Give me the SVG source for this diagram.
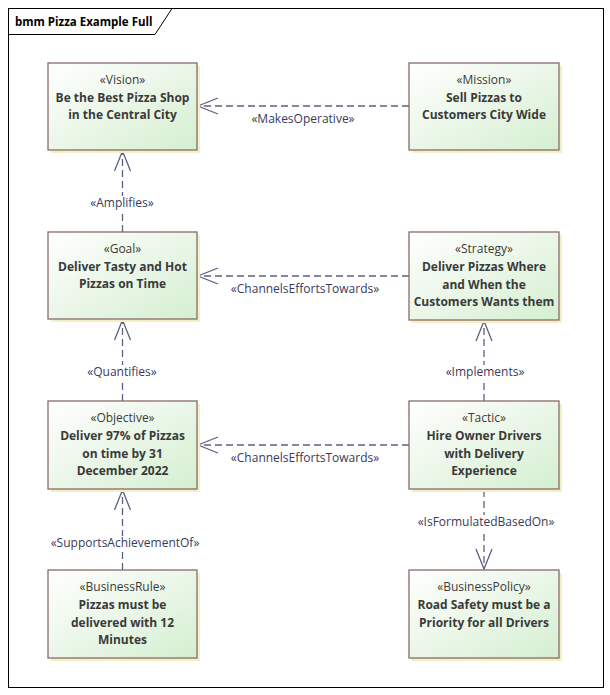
<svg xmlns="http://www.w3.org/2000/svg" width="610" height="695" viewBox="0 0 610 695">
<defs>
<linearGradient id="g" x1="0" y1="0" x2="1" y2="1">
<stop offset="0" stop-color="#ffffff"/>
<stop offset="0.6" stop-color="#e6f5e3"/>
<stop offset="1" stop-color="#d4efd0"/>
</linearGradient>
<marker id="arr" viewBox="0 0 22 18" refX="21" refY="9" markerWidth="22" markerHeight="18" markerUnits="userSpaceOnUse" orient="auto">
<path d="M1,1 L21,9 L1,17" fill="none" stroke="#5d6080" stroke-width="1.3"/>
</marker>
<style>
.box{fill:url(#g);stroke:#8a6a6a;stroke-width:1.3}
.sh{fill:#f4efc4}
.st{font-family:"Open Sans","Noto Sans",sans-serif;font-size:12px;fill:#3a3a3a;text-anchor:middle}
.nm{font-family:"Open Sans","Noto Sans",sans-serif;font-size:12px;font-weight:bold;fill:#3a3a3a;text-anchor:middle}
.lbl{font-family:"Open Sans","Noto Sans",sans-serif;font-size:12px;fill:#3a3a5a;text-anchor:middle}
.bg{fill:#ffffff}
.c{fill:none;stroke:#5d6080;stroke-width:1.3;stroke-dasharray:7,4;marker-end:url(#arr)}
</style>
</defs>
<rect x="0" y="0" width="610" height="695" fill="#ffffff"/>
<g id="frame">
<rect x="8.5" y="8.5" width="595" height="679" fill="none" stroke="#000" stroke-width="1"/>
<path d="M8.5,34.5 L155,34.5 L172,8.5" fill="none" stroke="#000" stroke-width="1"/>
<text x="15" y="26" font-family="'Open Sans','Noto Sans',sans-serif" font-size="11.5" font-weight="bold" fill="#000">bmm Pizza Example Full</text>
</g>
<g id="connectors">
<line class="c" x1="409" y1="106" x2="198" y2="106"/>
<line class="c" x1="122.5" y1="232" x2="122.5" y2="151"/>
<line class="c" x1="409" y1="276" x2="198" y2="276"/>
<line class="c" x1="122.5" y1="401" x2="122.5" y2="320"/>
<line class="c" x1="484" y1="401" x2="484" y2="321"/>
<line class="c" x1="409" y1="445" x2="198" y2="445"/>
<line class="c" x1="122.5" y1="570" x2="122.5" y2="490"/>
<line class="c" x1="484" y1="490" x2="484" y2="569"/>
<rect class="bg" x="89" y="196" width="67" height="15"/>
<rect class="bg" x="85" y="365" width="75" height="15"/>
<rect class="bg" x="444" y="365" width="82" height="15"/>
<rect class="bg" x="48" y="536" width="154" height="15"/>
<rect class="bg" x="414" y="515" width="144" height="15"/>
<text class="lbl" x="303" y="123">«MakesOperative»</text>
<text class="lbl" x="122" y="207">«Amplifies»</text>
<text class="lbl" x="305" y="293">«ChannelsEffortsTowards»</text>
<text class="lbl" x="122" y="376">«Quantifies»</text>
<text class="lbl" x="485" y="376">«Implements»</text>
<text class="lbl" x="305" y="462">«ChannelsEffortsTowards»</text>
<text class="lbl" x="125" y="547">«SupportsAchievementOf»</text>
<text class="lbl" x="486" y="526">«IsFormulatedBasedOn»</text>
</g>
<g id="vision">
<rect class="sh" x="51" y="66" width="149" height="87"/>
<rect class="box" x="48" y="63" width="149" height="87"/>
<text class="st" x="122.5" y="84">«Vision»</text>
<text class="nm" x="122.5" y="102">Be the Best Pizza Shop</text>
<text class="nm" x="122.5" y="119">in the Central City</text>
</g>
<g id="mission">
<rect class="sh" x="412" y="66" width="150" height="87"/>
<rect class="box" x="409" y="63" width="150" height="87"/>
<text class="st" x="484" y="84">«Mission»</text>
<text class="nm" x="484" y="102">Sell Pizzas to</text>
<text class="nm" x="484" y="119">Customers City Wide</text>
</g>
<g id="goal">
<rect class="sh" x="51" y="235" width="149" height="87"/>
<rect class="box" x="48" y="232" width="149" height="87"/>
<text class="st" x="122.5" y="253">«Goal»</text>
<text class="nm" x="122.5" y="271">Deliver Tasty and Hot</text>
<text class="nm" x="122.5" y="288">Pizzas on Time</text>
</g>
<g id="strategy">
<rect class="sh" x="412" y="235" width="150" height="88"/>
<rect class="box" x="409" y="232" width="150" height="88"/>
<text class="st" x="484" y="253">«Strategy»</text>
<text class="nm" x="484" y="271">Deliver Pizzas Where</text>
<text class="nm" x="484" y="289">and When the</text>
<text class="nm" x="484" y="306">Customers Wants them</text>
</g>
<g id="objective">
<rect class="sh" x="51" y="404" width="149" height="88"/>
<rect class="box" x="48" y="401" width="149" height="88"/>
<text class="st" x="122.5" y="422">«Objective»</text>
<text class="nm" x="122.5" y="440">Deliver 97% of Pizzas</text>
<text class="nm" x="122.5" y="458">on time by 31</text>
<text class="nm" x="122.5" y="475">December 2022</text>
</g>
<g id="tactic">
<rect class="sh" x="412" y="404" width="150" height="88"/>
<rect class="box" x="409" y="401" width="150" height="88"/>
<text class="st" x="484" y="422">«Tactic»</text>
<text class="nm" x="484" y="440">Hire Owner Drivers</text>
<text class="nm" x="484" y="458">with Delivery</text>
<text class="nm" x="484" y="475">Experience</text>
</g>
<g id="businessrule">
<rect class="sh" x="51" y="573" width="149" height="88"/>
<rect class="box" x="48" y="570" width="149" height="88"/>
<text class="st" x="122.5" y="591">«BusinessRule»</text>
<text class="nm" x="122.5" y="609">Pizzas must be</text>
<text class="nm" x="122.5" y="627">delivered with 12</text>
<text class="nm" x="122.5" y="644">Minutes</text>
</g>
<g id="businesspolicy">
<rect class="sh" x="412" y="573" width="150" height="88"/>
<rect class="box" x="409" y="570" width="150" height="88"/>
<text class="st" x="484" y="591">«BusinessPolicy»</text>
<text class="nm" x="484" y="609">Road Safety must be a</text>
<text class="nm" x="484" y="627">Priority for all Drivers</text>
</g>
</svg>
